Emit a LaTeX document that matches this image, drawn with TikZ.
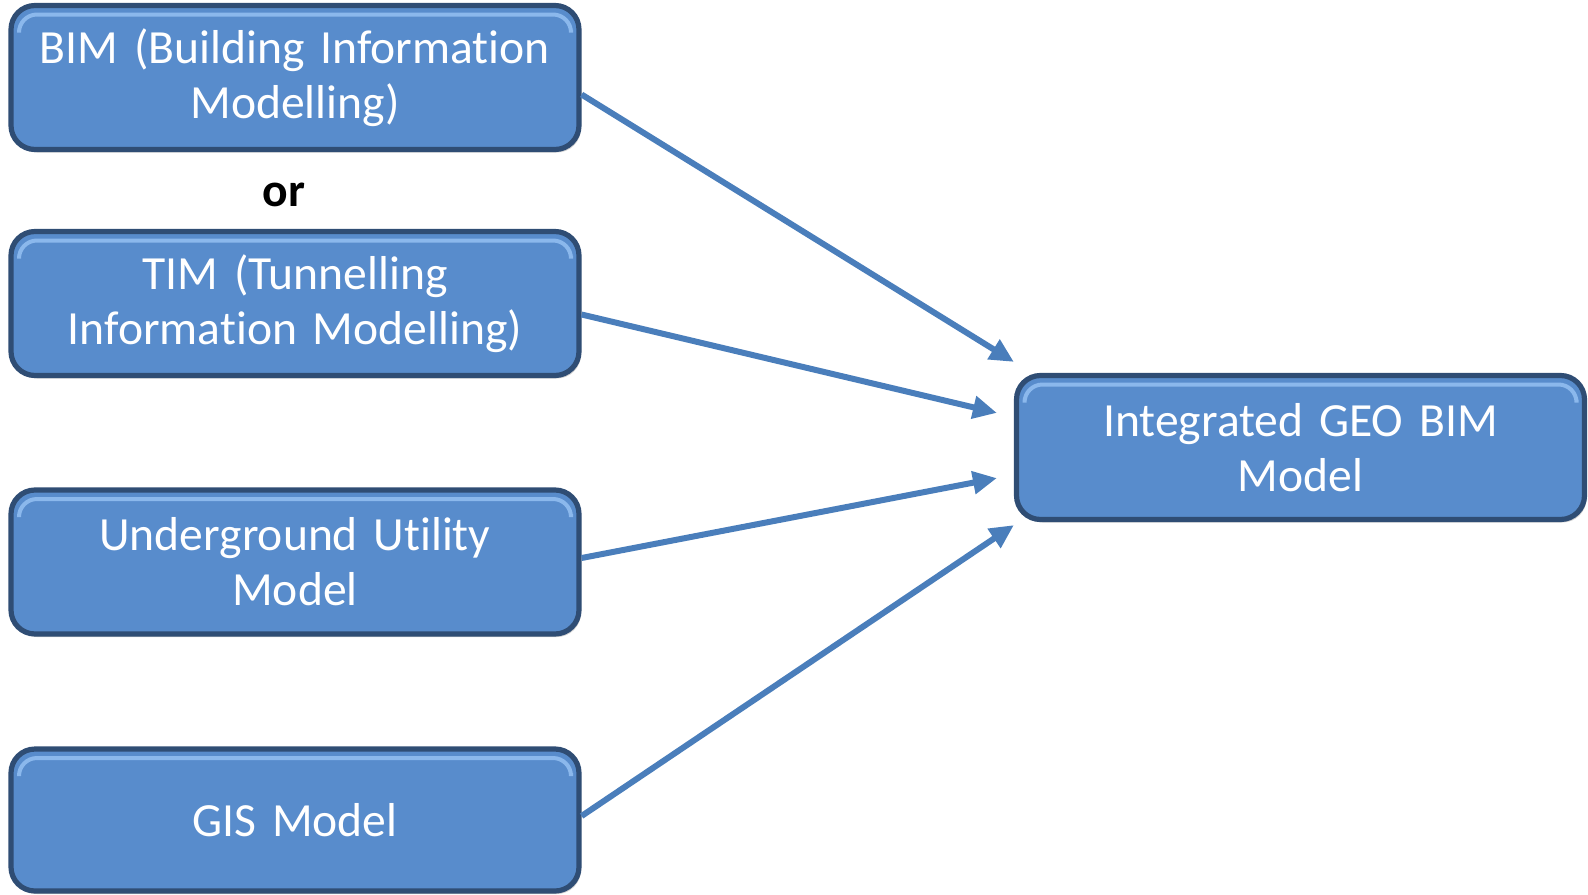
\documentclass[tikz,border=0pt]{standalone}
\usepackage{fontspec}
\setmainfont{Carlito}[Ligatures=NoCommon, WordSpace=0.8]
\usetikzlibrary{positioning, arrows.meta, calc, shadows}
\definecolor{boxFill}{HTML}{588CCC}
\definecolor{boxEdge}{HTML}{2F4D74}
\definecolor{boxLight}{HTML}{8BB8EC}
\definecolor{flowBlue}{HTML}{4A7EBB}

\tikzset{
  modelbox/.style={
    rectangle, rounded corners=12pt, fill=boxFill, draw=boxEdge,
    line width=2.6pt, minimum width=284pt, minimum height=72pt,
    text width=276pt, align=center, text=white,
    font=\fontsize{23.8}{27.5}\selectfont,
    drop shadow={opacity=0.35, shadow xshift=1pt, shadow yshift=-1.5pt},
    path picture={
      \draw[boxLight, line width=2pt, rounded corners=9pt]
        ([xshift=4pt,yshift=-12pt]path picture bounding box.north west)
        |- ([xshift=-4pt,yshift=-4.5pt]path picture bounding box.north east)
        -- ([xshift=-4pt,yshift=-12pt]path picture bounding box.north east);
    }
  },
  flow/.style={
    -{Triangle[length=12pt,width=11pt]}, line width=3pt, flowBlue
  }
}

\begin{document}
\begin{tikzpicture}[x=0.5pt, y=-0.5pt]
  \useasboundingbox (0,0) rectangle (1588,894);
  % ---- source models on the left ----
  \node[modelbox] (bim) at (295,77.5) {BIM (Building Information\\Modelling)};
  \node[font=\fontsize{23.8}{27.5}\selectfont\bfseries] (or) at (284,195) {or};
  \node[modelbox] (tim) at (295,303.5) {TIM (Tunnelling\\Information Modelling)};
  \node[modelbox] (ugm) at (295,562) {Underground Utility\\Model};
  \node[modelbox, minimum height=71pt] (gis) at (295,820) {GIS Model};
  % ---- combined model ----
  \node[modelbox] (gbim) at (1300.5,447.5) {Integrated GEO BIM\\Model};
  % ---- arrow ends round the target ----
  \coordinate (in1) at ([shift={(0,-11)}]gbim.north west);
  \coordinate (in2) at ([shift={(-17,40)}]gbim.north west);
  \coordinate (in3) at ([shift={(-17,-44)}]gbim.south west);
  \coordinate (in4) at ([shift={(0,3)}]gbim.south west);
  \draw[flow] ([yshift=-8.5]bim.east) -- (in1);
  \draw[flow] ([yshift=-5.5]tim.east) -- (in2);
  \draw[flow] ([yshift=2]ugm.east) -- (in3);
  \draw[flow] ([yshift=2]gis.east) -- (in4);
\end{tikzpicture}
\end{document}
